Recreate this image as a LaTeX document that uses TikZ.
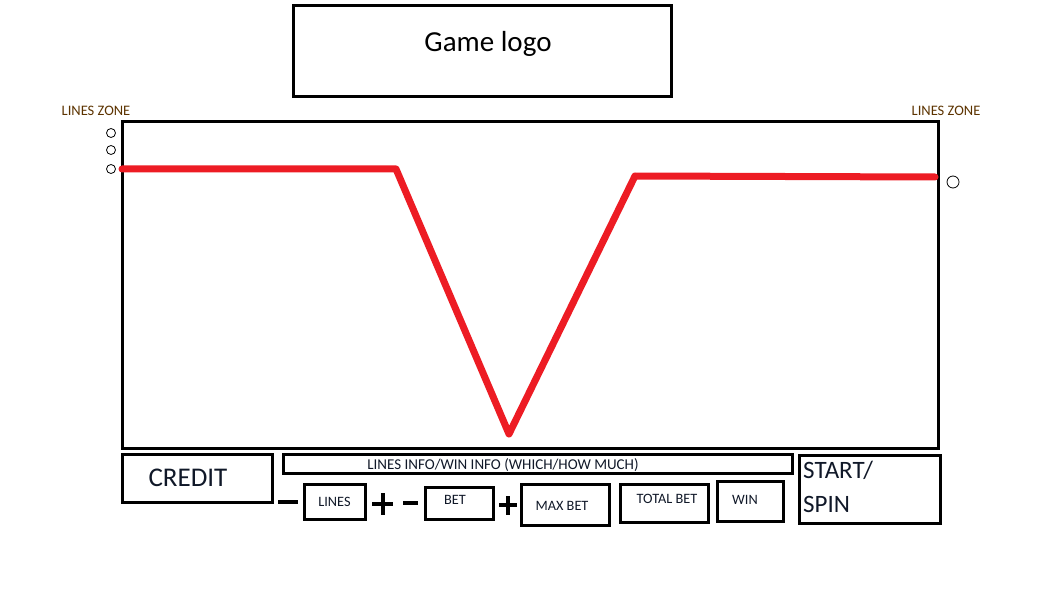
\documentclass[tikz,border=0pt]{standalone}
\usepackage{fontspec}
\setmainfont{Carlito}
\usetikzlibrary{positioning}
\definecolor{paintred}{HTML}{ED1C24}
\definecolor{zonebrown}{HTML}{5C3300}
\definecolor{labelink}{HTML}{101828}

\begin{document}
\begin{tikzpicture}[x=1pt,y=-1pt,
  box/.style={draw,line width=3pt,inner sep=0pt},
  bigtext/.style={font=\fontsize{25}{34}\selectfont,text=labelink,inner sep=0pt},
  smalltext/.style={font=\fontsize{14.3}{16}\selectfont,text=labelink,inner sep=0pt},
  zonetext/.style={font=\fontsize{14.5}{16}\selectfont,text=zonebrown,inner sep=0pt},
  sign/.style={line width=4pt},
  linemark/.style={draw,line width=0.8pt}]
\useasboundingbox (0,0) rectangle (1054,596);
% logo and reel area
\node[box,minimum width=378pt,minimum height=91pt] (logo) at (482,51.5) {};
\node[font=\fontsize{29}{32}\selectfont,inner sep=0pt] (logotxt) at (488,44) {Game logo};
\node[box,minimum width=816pt,minimum height=326pt] (reels) at (530,285) {};
\node[zonetext] (zoneL) at (96,111) {LINES ZONE};
\node[zonetext] (zoneR) at (946,111) {LINES ZONE};
% line markers
\node[linemark,circle,minimum size=9pt,inner sep=0pt] (mk1) at (111,133) {};
\node[linemark,circle,minimum size=9pt,inner sep=0pt] (mk2) at (111,150) {};
\node[linemark,circle,minimum size=9pt,inner sep=0pt] (mk3) at (111,169) {};
\node[linemark,circle,minimum size=12pt,inner sep=0pt] (mk4) at (953,182) {};
% winning line
\coordinate (p1) at (122,169);
\coordinate (p2) at (396,169);
\coordinate (p3) at (509,434);
\coordinate (p4) at (635,176);
\coordinate (p5) at (935,177);
\draw[paintred,line width=7pt,line join=round,line cap=round] (p1)--(p2)--(p3)--(p4)--(p5);
% bottom panel
\node[box,minimum width=150pt,minimum height=48pt] (credit) at (197,478) {};
\node[bigtext,font=\fontsize{27}{34}\selectfont] (credittxt) at (188,478) {CREDIT};
\node[box,minimum width=509pt,minimum height=19pt] (info) at (537.5,463.5) {};
\node[smalltext,font=\fontsize{15}{16}\selectfont] (infotxt) at (503,465) {LINES INFO/WIN INFO (WHICH/HOW MUCH)};
\node[box,minimum width=61pt,minimum height=35pt,smalltext] (lines) at (334.5,501.5) {LINES};
\node[box,minimum width=68pt,minimum height=32pt] (bet) at (459,503) {};
\node[smalltext] (bettxt) at (455,500) {BET};
\node[box,minimum width=88pt,minimum height=41pt] (maxbet) at (565,504.5) {};
\node[smalltext] (maxbettxt) at (562,506) {MAX BET};
\node[box,minimum width=88pt,minimum height=38pt] (totalbet) at (664,503) {};
\node[smalltext] (totalbettxt) at (667,499) {TOTAL BET};
\node[box,minimum width=66pt,minimum height=40pt] (win) at (750,501) {};
\node[smalltext] (wintxt) at (745,500) {WIN};
\node[box,minimum width=141pt,minimum height=68pt] (spin) at (869.5,489) {};
\node[bigtext,align=left,anchor=north west] (spintxt) at (803,461) {START/\\SPIN};
% plus and minus signs
\draw[sign] (278,502)--(298,502);
\draw[sign] (372,504)--(393,504) (382.5,493)--(382.5,515);
\draw[sign] (403,503)--(418,503);
\draw[sign] (499,505)--(517,505) (508,496)--(508,515);
\end{tikzpicture}
\end{document}
